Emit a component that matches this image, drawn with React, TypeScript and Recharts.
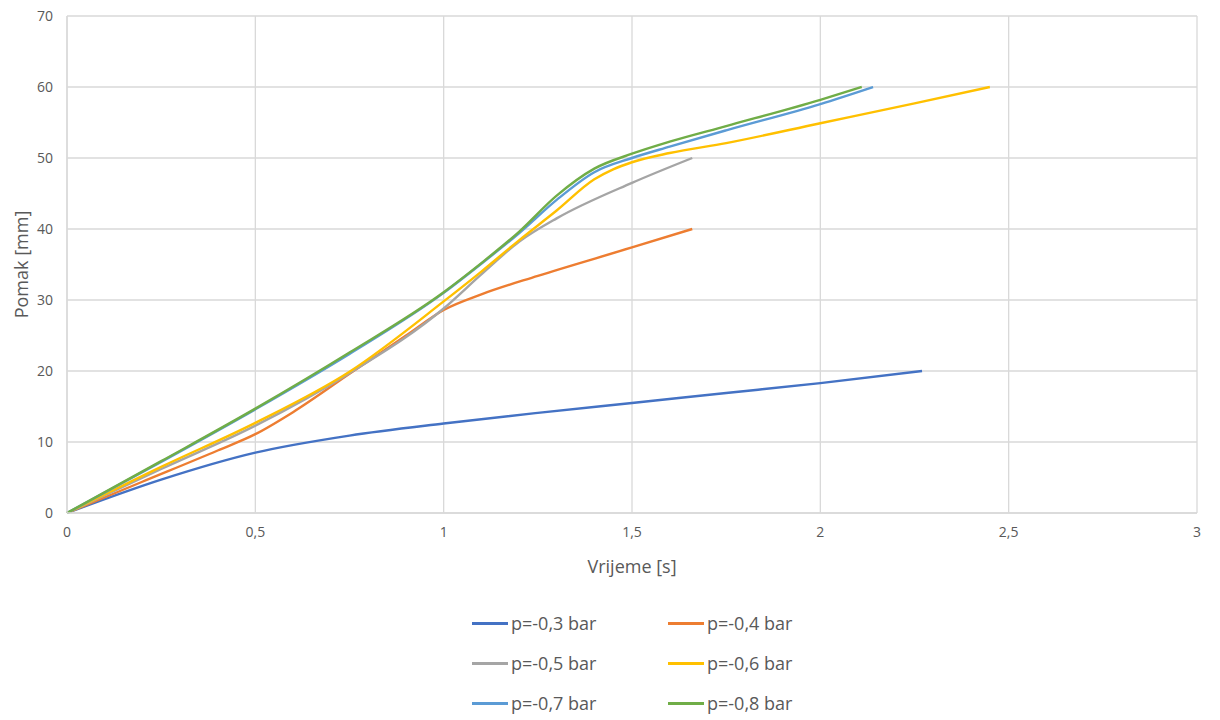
import React from 'react';
import { LineChart, Line, XAxis, YAxis, CartesianGrid, Legend } from 'recharts';

const seriesNames = ['p=-0,3 bar', 'p=-0,4 bar', 'p=-0,5 bar', 'p=-0,6 bar', 'p=-0,7 bar', 'p=-0,8 bar'];
const seriesColors = ['#4472C4', '#ED7D31', '#A5A5A5', '#FFC000', '#5B9BD5', '#70AD47'];

const t03 = [0, 0.25, 0.5, 0.75, 1, 1.25, 1.5, 1.75, 2, 2.27];
const v03 = [0, 4.7, 8.5, 10.9, 12.6, 14.1, 15.5, 16.9, 18.3, 20];

const t04 = [0, 0.2, 0.4, 0.5, 0.6, 0.75, 0.9, 1, 1.1, 1.25, 1.5, 1.66];
const v04 = [0, 4.4, 8.8, 11.1, 14.2, 19.6, 25, 28.6, 30.8, 33.4, 37.4, 40];

const t05 = [0, 0.25, 0.5, 0.75, 1, 1.1, 1.2, 1.3, 1.5, 1.66];
const v05 = [0, 6.2, 12.3, 19.7, 28.8, 33.6, 38.2, 41.5, 46.5, 50];

const t06 = [0, 0.25, 0.5, 0.75, 1, 1.1, 1.2, 1.3, 1.4, 1.45, 1.5, 1.6, 1.75, 2, 2.25, 2.45];
const v06 = [0, 6.5, 12.7, 19.9, 29.8, 34, 38.4, 42.6, 47, 48.4, 49.4, 50.7, 52.1, 54.9, 57.7, 60];

const t07 = [0, 0.25, 0.5, 0.75, 1, 1.1, 1.2, 1.3, 1.4, 1.5, 1.6, 1.75, 2, 2.14];
const v07 = [0, 7.2, 14.6, 22.4, 31, 35.1, 39.4, 44.1, 48, 50, 51.6, 53.9, 57.6, 60];

const t08 = [0, 0.25, 0.5, 0.75, 1, 1.1, 1.2, 1.3, 1.4, 1.5, 1.6, 1.75, 2, 2.11];
const v08 = [0, 7.3, 14.7, 22.6, 31.1, 35.2, 39.6, 44.7, 48.5, 50.6, 52.3, 54.5, 58.2, 60];

const xTicks = [0, 0.5, 1, 1.5, 2, 2.5, 3];
const yTicks = [0, 10, 20, 30, 40, 50, 60, 70];

const seriesTimes = [t03, t04, t05, t06, t07, t08];
const seriesValues = [v03, v04, v05, v06, v07, v08];

const seriesData = seriesTimes.map((ts, i) => ts.map((t, j) => ({ t, v: seriesValues[i][j] })));

const FONT = '"Open Sans", sans-serif';
const TEXT = '#595959';
const GRID = '#d9d9d9';

const fmt = (v: number) => String(v).replace('.', ',');

const LegendContent = () => (
  <div
    style={{
      display: 'grid',
      gridTemplateColumns: '196px 196px',
      gridAutoRows: '40px',
      fontFamily: FONT,
      fontSize: 18,
      color: TEXT,
    }}
  >
    {seriesNames.map((n, i) => (
      <div key={n} style={{ display: 'flex', alignItems: 'center' }}>
        <div style={{ width: 36, height: 3, background: seriesColors[i], marginRight: 3 }} />
        <span style={{ whiteSpace: 'nowrap' }}>{n}</span>
      </div>
    ))}
  </div>
);

export default function App() {
  return (
    <div style={{ margin: '-8px 0 0 -8px', width: 1220, height: 720 }}>
      <LineChart width={1220} height={720} margin={{ top: 16, right: 23, left: 0, bottom: 147 }}>
        <CartesianGrid stroke={GRID} strokeWidth={1.3} />
        <XAxis
          type="number"
          dataKey="t"
          domain={[0, 3]}
          ticks={xTicks}
          tickFormatter={fmt}
          allowDuplicatedCategory={false}
          height={60}
          stroke={GRID}
          strokeWidth={1.3}
          tickLine={false}
          tickSize={6}
          tickMargin={8}
          tick={{ fill: TEXT, fontSize: 14, fontFamily: FONT }}
          label={{ value: 'Vrijeme [s]', position: 'insideBottom', offset: 0, fill: TEXT, fontSize: 18, fontFamily: FONT }}
        />
        <YAxis
          type="number"
          dataKey="v"
          domain={[0, 70]}
          ticks={yTicks}
          width={67}
          stroke={GRID}
          strokeWidth={1.3}
          tickLine={false}
          tickSize={6}
          tickMargin={8}
          tick={{ fill: TEXT, fontSize: 14, fontFamily: FONT }}
          label={{
            content: (props: any) => {
              const vb = props.viewBox || { x: 0, y: 16, width: 67, height: 497 };
              const cx = vb.x + 20.5;
              const cy = vb.y + vb.height / 2;
              return (
                <text
                  x={cx}
                  y={cy}
                  transform={`rotate(-90 ${cx} ${cy})`}
                  textAnchor="middle"
                  dominantBaseline="central"
                  fill={TEXT}
                  fontSize={18}
                  fontFamily={FONT}
                >
                  Pomak [mm]
                </text>
              );
            },
          }}
        />
        <Legend
          layout="horizontal"
          verticalAlign="middle"
          align="center"
          wrapperStyle={{ top: 603, left: 472, width: 420 }}
          content={() => <LegendContent />}
        />
        {seriesData.map((d, i) => (
          <Line
            key={seriesNames[i]}
            data={d}
            dataKey="v"
            name={seriesNames[i]}
            type="monotone"
            stroke={seriesColors[i]}
            strokeWidth={2.4}
            dot={false}
            activeDot={false}
            isAnimationActive={false}
          />
        ))}
      </LineChart>
    </div>
  );
}
